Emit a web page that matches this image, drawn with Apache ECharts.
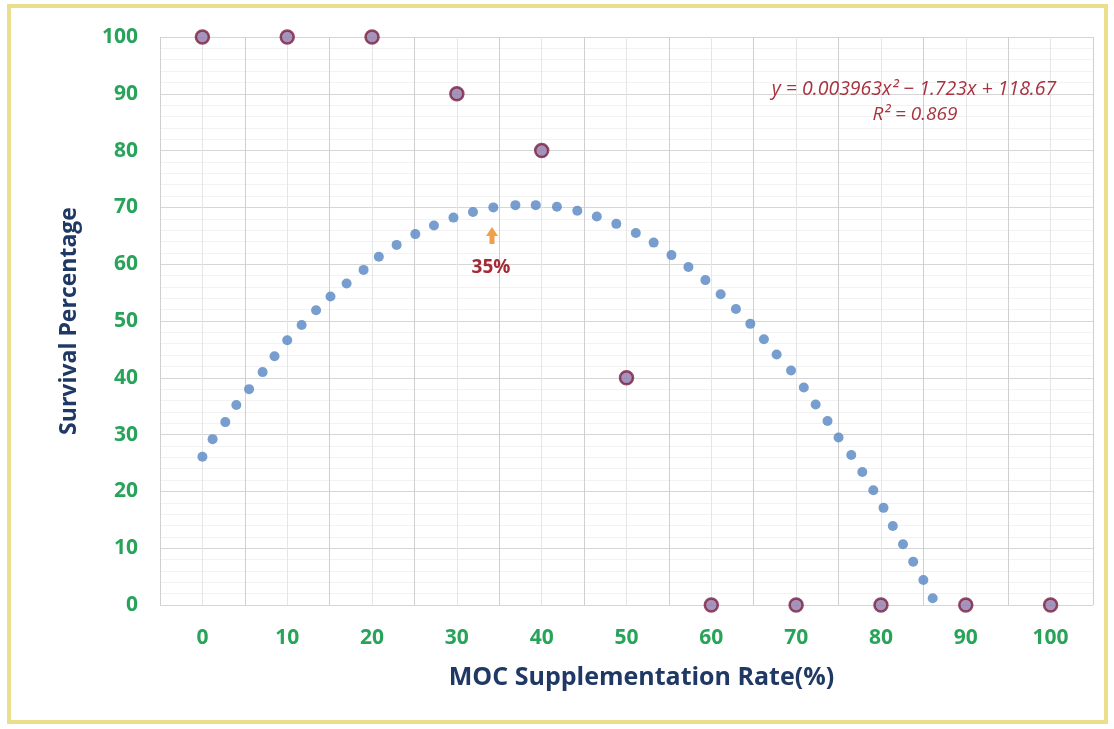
<!DOCTYPE html>
<html>
<head>
<meta charset="utf-8">
<script src="https://cdn.jsdelivr.net/npm/echarts@6/dist/echarts.min.js"></script>
<style>
html,body{margin:0;padding:0;background:#fff;}
#chart{width:1114px;height:729px;}
</style>
</head>
<body>
<div id="chart"></div>
<script>
// Observed survival percentages at each MOC supplementation rate
const observedX = [0, 10, 20, 30, 40, 50, 60, 70, 80, 90, 100];
const observedY = [100, 100, 100, 90, 80, 40, 0, 0, 0, 0, 0];

// Dotted trend curve points
const trendX = [0, 1.2, 2.7, 4.0, 5.5, 7.1, 8.5, 10.0, 11.7, 13.4, 15.1, 17.0, 19.0, 20.8, 22.9, 25.1, 27.3, 29.6, 31.9, 34.3, 36.9,
  39.3, 41.8, 44.2, 46.5, 48.8, 51.1, 53.2, 55.3, 57.3, 59.3, 61.1, 62.9, 64.6, 66.2, 67.7,
  69.4, 70.9, 72.3, 73.7, 75.0, 76.5, 77.8, 79.1, 80.3, 81.4, 82.6, 83.8, 85.0, 86.1];
const trendY = [26.1, 29.2, 32.2, 35.2, 38.0, 41.0, 43.8, 46.6, 49.3, 51.9, 54.3, 56.6, 59.0, 61.3, 63.4, 65.3, 66.8, 68.2, 69.2, 70.0, 70.4,
  70.4, 70.1, 69.4, 68.4, 67.1, 65.5, 63.8, 61.6, 59.5, 57.2, 54.7, 52.1, 49.5, 46.8, 44.1,
  41.3, 38.3, 35.3, 32.4, 29.5, 26.4, 23.4, 20.2, 17.1, 13.9, 10.7, 7.6, 4.4, 1.2];

const xTickLabels = ['0', '10', '20', '30', '40', '50', '60', '70', '80', '90', '100'];
const yTickLabels = ['0', '10', '20', '30', '40', '50', '60', '70', '80', '90', '100'];

const equationText = 'y = 0.003963x\u00B2 \u2212 1.723x + 118.67';
const r2Text = 'R\u00B2 = 0.869';
const optimumLabel = '35%';

const chart = echarts.init(document.getElementById('chart'));
const FONT = '"Open Sans", Lato, sans-serif';
const green = '#27a35a';
const navy = '#1f3864';

chart.setOption({
  backgroundColor: '#ffffff',
  animation: false,
  grid: { left: 160, right: 21, top: 37, bottom: 124, containLabel: false },
  xAxis: {
    type: 'value', min: -5, max: 105, interval: 5,
    name: 'MOC Supplementation Rate(%)',
    nameLocation: 'middle', nameGap: 60,
    nameTextStyle: { color: navy, fontFamily: FONT, fontWeight: 'bold', fontSize: 25, padding: [0, 0, 0, 30] },
    axisLine: { show: false },
    axisTick: { show: false },
    axisLabel: {
      interval: 0, margin: 23, color: green, fontFamily: FONT, fontWeight: 'bold', fontSize: 21,
      formatter: v => xTickLabels.includes(String(v)) ? String(v) : ''
    },
    splitLine: { show: true, lineStyle: { color: ['#cfcfcf', '#e6e6e6'], width: 1 } }
  },
  yAxis: {
    type: 'value', min: 0, max: 100, interval: 10,
    name: 'Survival Percentage',
    nameLocation: 'middle', nameGap: 79, nameRotate: 90,
    nameTextStyle: { color: navy, fontFamily: FONT, fontWeight: 'bold', fontSize: 23 },
    axisLine: { show: false },
    axisTick: { show: false },
    axisLabel: {
      margin: 22, color: green, fontFamily: FONT, fontWeight: 'bold', fontSize: 21,
      formatter: v => yTickLabels.includes(String(v)) ? String(v) : ''
    },
    splitLine: { show: true, lineStyle: { color: '#d6d6d6', width: 1 } },
    minorTick: { show: false, splitNumber: 5 },
    minorSplitLine: { show: true, lineStyle: { color: '#f2f2f2', width: 1 } }
  },
  series: [
    {
      name: 'Trend', type: 'scatter',
      data: trendX.map((x, i) => [x, trendY[i]]),
      symbol: 'circle', symbolSize: 10,
      itemStyle: { color: '#5586c2' },
      z: 3
    },
    {
      name: 'Observed', type: 'scatter',
      data: observedX.map((x, i) => [x, observedY[i]]),
      symbol: 'circle', symbolSize: 13,
      itemStyle: { color: '#9079ab', borderColor: '#7a1f40', borderWidth: 2.5 },
      z: 4
    }
  ],
  graphic: [
    {
      type: 'rect', silent: true, z: 0,
      shape: { x: 9, y: 6, width: 1097, height: 716 },
      style: { fill: 'none', stroke: '#ebdf8e', lineWidth: 4 }
    },
    {
      type: 'text', x: 914, y: 89, silent: true, z: 100,
      style: { text: equationText, fill: '#a8323f', font: 'italic 19.5px "Open Sans", sans-serif', align: 'center', verticalAlign: 'middle' }
    },
    {
      type: 'text', x: 915, y: 115, silent: true, z: 100,
      style: { text: r2Text, fill: '#a8323f', font: 'italic 19px "Open Sans", sans-serif', align: 'center', verticalAlign: 'middle' }
    },
    {
      type: 'polygon', silent: true, z: 100,
      shape: { points: [[492, 227], [498, 236], [494.5, 236], [494.5, 244], [489.5, 244], [489.5, 236], [486, 236]] },
      style: { fill: '#f0a04a' }
    },
    {
      type: 'text', x: 491, y: 268, silent: true, z: 100,
      style: { text: optimumLabel, fill: '#a52a35', font: 'bold 19px ' + FONT, align: 'center', verticalAlign: 'middle' }
    }
  ]
});
</script>
</body>
</html>
